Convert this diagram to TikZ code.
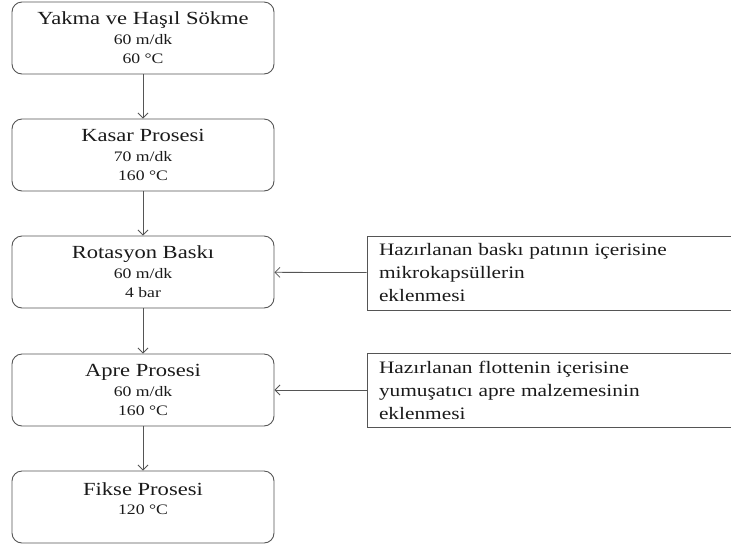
\documentclass[tikz,border=0pt]{standalone}
\usepackage{fontspec}
\setmainfont{Liberation Serif}[FakeStretch=1.22]
\usetikzlibrary{arrows.meta}

\definecolor{linegray}{HTML}{555555}
\definecolor{textgray}{HTML}{1A1A1A}
\newcommand{\titlefont}{\fontsize{18.5}{20}\selectfont}
\newcommand{\infofont}{\fontsize{14.5}{19.5}\selectfont}
\newcommand{\notefont}{\fontsize{17.5}{23}\selectfont}

\begin{document}
\begin{tikzpicture}[x=1pt,y=-1pt,
  stepbox/.style={draw=linegray,line width=0.9pt,rounded corners=10pt,minimum width=262pt,minimum height=72pt,align=center,text=textgray,inner sep=3pt,font=\infofont},
  notebox/.style={draw=linegray,line width=0.9pt,minimum height=74pt,text width=340pt,inner xsep=12pt,align=left,text=textgray,font=\notefont},
  flow/.style={draw=linegray,line width=0.8pt,-{Straight Barb[length=5pt,width=10pt]}}]
\useasboundingbox (0,0) rectangle (731,547);

% process steps
\node[stepbox] (yakma) at (143,38) {{\titlefont Yakma ve Haşıl Sökme}\\ 60 m/dk\\ 60 °C};
\node[stepbox] (kasar) at (143,155) {{\titlefont Kasar Prosesi}\\ 70 m/dk\\ 160 °C};
\node[stepbox] (baski) at (143,272) {{\titlefont Rotasyon Baskı}\\ 60 m/dk\\ 4 bar};
\node[stepbox] (apre) at (143,390) {{\titlefont Apre Prosesi}\\ 60 m/dk\\ 160 °C};
\node[stepbox,text depth=17pt] (fikse) at (143,507) {{\titlefont Fikse Prosesi}\\ 120 °C};

% additions
\node[notebox] (patnot) at (549,273) {Hazırlanan baskı patının içerisine\\ mikrokapsüllerin\\ eklenmesi};
\node[notebox] (flotnot) at (549,390) {Hazırlanan flottenin içerisine\\ yumuşatıcı apre malzemesinin\\ eklenmesi};

\draw[flow] (yakma) -- (kasar);
\draw[flow] (kasar) -- (baski);
\draw[flow] (baski) -- (apre);
\draw[flow] (apre) -- (fikse);
\draw[flow] (patnot) -- (baski);
\draw[flow] (flotnot) -- (apre);
\end{tikzpicture}
\end{document}
